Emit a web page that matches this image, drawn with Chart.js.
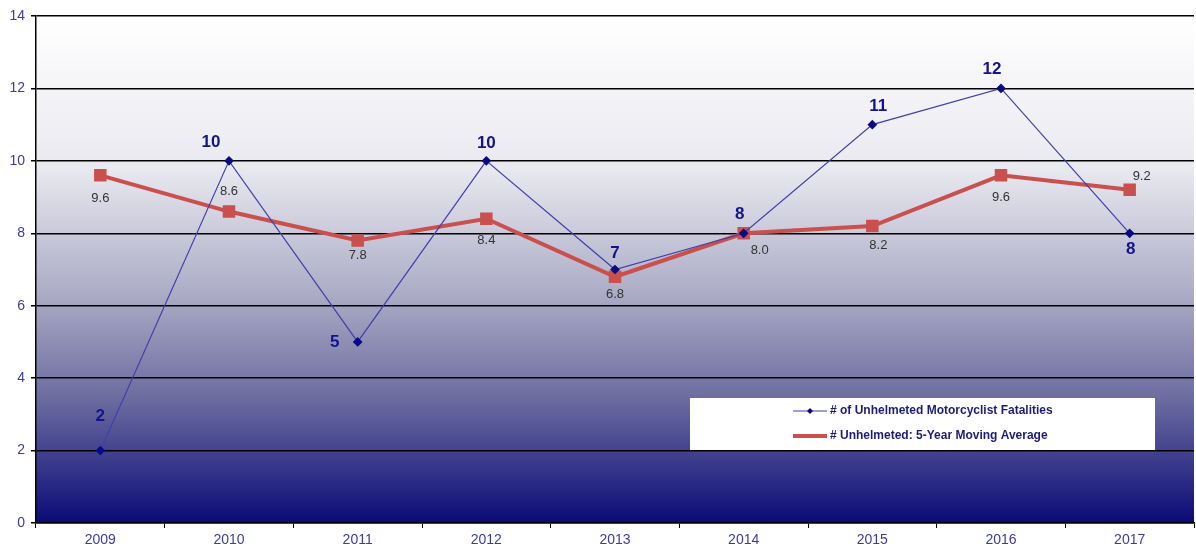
<!DOCTYPE html>
<html>
<head>
<meta charset="utf-8">
<script src="https://cdn.jsdelivr.net/npm/chart.js@4/dist/chart.umd.min.js"></script>
<style>
    html, body { margin: 0; padding: 0; background: #fff; overflow: hidden; }
    /* slightly wider than the window: Chart.js keeps a small gap on the right */
    #wrap { width: 1204px; height: 550px; }
</style>
</head>
<body>
<div id="wrap"><canvas id="chart"></canvas></div>
<script>
// Chart data
const years = ['2009', '2010', '2011', '2012', '2013', '2014', '2015', '2016', '2017'];
const fatalities = [2, 10, 5, 10, 7, 8, 11, 12, 8];
const movingAvg = [9.6, 8.6, 7.8, 8.4, 6.8, 8.0, 8.2, 9.6, 9.2];
const yTicks = [0, 2, 4, 6, 8, 10, 12, 14];

// where each value label sits relative to its point (dx, dy)
const fatalityLabelOffsets = [[0, -34], [-18, -19], [-23, 0], [0, -18], [0, -16], [-4, -19], [6, -18], [-9, -19], [1, 16]];
const avgLabelOffsets = [[0, 23], [0, -20], [0, 15], [0, 22], [0, 18], [16, 17], [6, 19], [0, 22], [12, -13]];

const tickColor = '#3b3ba3';
const fontFamily = '"Liberation Sans", Arial, sans-serif';

// gradient fill behind the plot area
const backgroundPlugin = {
    id: 'plotBackground',
    beforeDraw(chart) {
        const { ctx, chartArea: a } = chart;
        const g = ctx.createLinearGradient(0, a.top, 0, a.bottom);
        g.addColorStop(0, '#ffffff');
        g.addColorStop(0.3, '#e9e9f0');
        g.addColorStop(0.55, '#ababc6');
        g.addColorStop(0.76, '#6a6a9f');
        g.addColorStop(1, '#0a0a78');
        ctx.save();
        ctx.fillStyle = g;
        ctx.fillRect(a.left, a.top, a.right - a.left, a.bottom - a.top);
        ctx.restore();
    }
};

// value labels next to the points
const valueLabelPlugin = {
    id: 'valueLabels',
    afterDatasetsDraw(chart) {
        const ctx = chart.ctx;
        ctx.save();
        ctx.textAlign = 'center';
        ctx.textBaseline = 'middle';

        const avgMeta = chart.getDatasetMeta(1);
        ctx.font = '13px ' + fontFamily;
        ctx.fillStyle = '#333333';
        avgMeta.data.forEach((pt, i) => {
            const off = avgLabelOffsets[i];
            ctx.fillText(movingAvg[i].toFixed(1), pt.x + off[0], pt.y + off[1]);
        });

        const fatMeta = chart.getDatasetMeta(0);
        ctx.font = 'bold 17px ' + fontFamily;
        ctx.fillStyle = '#13138a';
        fatMeta.data.forEach((pt, i) => {
            const off = fatalityLabelOffsets[i];
            ctx.fillText(String(fatalities[i]), pt.x + off[0], pt.y + off[1]);
        });
        ctx.restore();
    }
};

// boxed legend inside the plot
const legendBoxPlugin = {
    id: 'legendBox',
    afterDraw(chart) {
        const ctx = chart.ctx;
        const x = 690, y = 398, w = 465, h = 52;
        ctx.save();
        ctx.fillStyle = '#ffffff';
        ctx.fillRect(x, y, w, h);

        const rows = [
            { ds: chart.data.datasets[0], y: y + 13 },
            { ds: chart.data.datasets[1], y: y + 38 }
        ];
        ctx.font = 'bold 12px ' + fontFamily;
        ctx.textBaseline = 'middle';
        rows.forEach(r => {
            ctx.strokeStyle = r.ds.borderColor;
            ctx.lineWidth = r.ds.borderWidth;
            ctx.beginPath();
            ctx.moveTo(793, r.y);
            ctx.lineTo(827, r.y);
            ctx.stroke();
            ctx.fillStyle = r.ds.pointBackgroundColor;
            ctx.beginPath();
            if (r.ds.pointStyle === 'rectRot') {
                ctx.moveTo(810, r.y - 3); ctx.lineTo(813, r.y); ctx.lineTo(810, r.y + 3); ctx.lineTo(807, r.y);
                ctx.closePath();
            } else {
                ctx.rect(807, r.y - 2, 6, 4);
            }
            ctx.fill();
            ctx.fillStyle = '#1c1c78';
            ctx.fillText(r.ds.label, 830, r.y);
        });
        ctx.restore();
    }
};

new Chart(document.getElementById('chart').getContext('2d'), {
    type: 'line',
    data: {
        labels: years,
        datasets: [{
            label: '# of Unhelmeted Motorcyclist Fatalities',
            data: fatalities,
            borderColor: '#4040aa',
            backgroundColor: '#0a0a80',
            pointBackgroundColor: '#0a0a80',
            pointBorderColor: '#0a0a80',
            borderWidth: 1.2,
            pointStyle: 'rectRot',
            pointRadius: 4,
            tension: 0,
            order: 0
        }, {
            label: '# Unhelmeted: 5-Year Moving Average',
            data: movingAvg,
            borderColor: '#c9504c',
            backgroundColor: '#c9504c',
            pointBackgroundColor: '#c9504c',
            pointBorderColor: '#c9504c',
            borderWidth: 4,
            pointStyle: 'rect',
            pointRadius: 6,
            tension: 0,
            order: 1
        }]
    },
    options: {
        responsive: true,
        maintainAspectRatio: false,
        animation: false,
        layout: { padding: { top: 16, right: 0, left: 0, bottom: 0 } },
        plugins: {
            legend: { display: false },
            tooltip: { enabled: false }
        },
        scales: {
            x: {
                offset: true,
                grid: {
                    offset: true,
                    drawOnChartArea: false,
                    drawTicks: true,
                    tickLength: 5,
                    color: '#000'
                },
                border: { color: '#000', width: 1.5 },
                ticks: {
                    color: tickColor,
                    font: { family: fontFamily, size: 14 },
                    padding: 4,
                    maxRotation: 0
                },
                afterFit(scale) {
                    scale.height = 27;
                    scale.paddingLeft = 0;
                    scale.paddingRight = 0;
                }
            },
            y: {
                min: 0,
                max: 14,
                afterBuildTicks(scale) { scale.ticks = yTicks.map(v => ({ value: v })); },
                grid: {
                    color: '#000',
                    lineWidth: 1.5,
                    tickLength: 5
                },
                border: { color: '#000', width: 1.5 },
                ticks: {
                    color: tickColor,
                    font: { family: fontFamily, size: 14 },
                    padding: 6
                },
                afterFit(scale) {
                    scale.width = 36;
                    scale.paddingTop = 0;
                    scale.paddingBottom = 0;
                }
            }
        }
    },
    plugins: [backgroundPlugin, valueLabelPlugin, legendBoxPlugin]
});
</script>
</body>
</html>
